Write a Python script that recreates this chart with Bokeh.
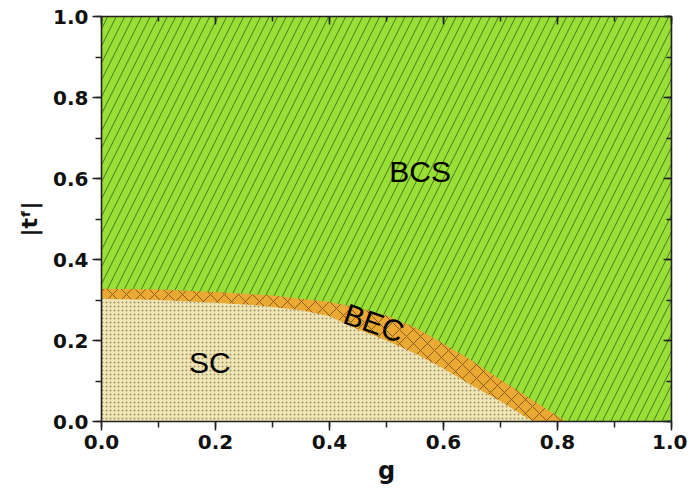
from bokeh.plotting import figure
from bokeh.models import (Range1d, LinearAxis, SingleIntervalTicker, ColumnDataSource,
                          PrintfTickFormatter, CustomJSTickFormatter)
from bokeh.core.properties import value
from bokeh.embed import file_html
from bokeh.resources import INLINE

# ---- data ----
g_lim = [0.0, 1.0]
t_top = [1.0, 1.0]

g_bec = [0.0, 0.1, 0.2, 0.3, 0.4, 0.45, 0.5, 0.55, 0.6, 0.65, 0.7, 0.75, 0.815]
t_bec = [0.328, 0.326, 0.320, 0.311, 0.295, 0.281, 0.262, 0.232, 0.192, 0.150, 0.103, 0.058, 0.0]

g_sc = [0.0, 0.1, 0.2, 0.28, 0.35, 0.40, 0.45, 0.50, 0.55, 0.60, 0.65, 0.70, 0.757]
t_sc = [0.303, 0.300, 0.293, 0.286, 0.275, 0.260, 0.227, 0.200, 0.168, 0.131, 0.089, 0.050, 0.0]

label_text = ["BCS", "BEC", "SC"]
label_g = [0.559, 0.478, 0.19]
label_t = [0.617, 0.243, 0.146]
label_angle = [0.0, -0.34, 0.0]

x_ticks_interval = 0.2
y_ticks_interval = 0.2

# ---- figure ----
p = figure(frame_width=570, frame_height=405,
           min_border_left=101, min_border_right=16, min_border_top=16, min_border_bottom=66,
           x_range=Range1d(0, 1), y_range=Range1d(0, 1),
           output_backend="svg", toolbar_location=None,
           background_fill_color="white", border_fill_color="white")
p.outline_line_color = None
p.grid.visible = False

p.varea(x=g_lim, y1=[0.0] * len(g_lim), y2=t_top, fill_color="#9ade38",
        hatch_pattern="right_diagonal_line", hatch_color="#3a6e12",
        hatch_scale=17, hatch_weight=1.0, hatch_alpha=0.9)
p.varea(x=g_bec, y1=[0.0] * len(g_bec), y2=t_bec, fill_color="#e9a933",
        hatch_pattern="diagonal_cross", hatch_color="#7d5014",
        hatch_scale=14, hatch_weight=1.0, hatch_alpha=0.85)
p.varea(x=g_sc, y1=[0.0] * len(g_sc), y2=t_sc, fill_color="#f1e7b6",
        hatch_pattern="dot", hatch_color="#8c7d55",
        hatch_scale=4, hatch_weight=0.6, hatch_alpha=0.8)

src = ColumnDataSource(dict(x=label_g, y=label_t, text=label_text, angle=label_angle))
p.text(x="x", y="y", text="text", angle="angle", source=src,
       text_font=value("Liberation Sans"), text_font_size="30px",
       text_color="black", text_align="center", text_baseline="middle")

fmt = PrintfTickFormatter(format="%.1f")

def style_main(ax, interval):
    ax.ticker = SingleIntervalTicker(interval=interval, num_minor_ticks=2)
    ax.formatter = fmt
    ax.axis_line_width = 1.6
    ax.axis_line_color = "#222222"
    ax.major_tick_line_width = 1.5
    ax.minor_tick_line_width = 1.5
    ax.major_tick_line_color = "#222222"
    ax.minor_tick_line_color = "#222222"
    ax.major_tick_in = 0
    ax.major_tick_out = 9
    ax.minor_tick_in = 0
    ax.minor_tick_out = 6
    ax.major_label_text_font = "DejaVu Sans"
    ax.major_label_text_font_style = "bold"
    ax.major_label_text_font_size = "20px"
    ax.major_label_text_color = "#111111"
    ax.major_label_standoff = 4
    ax.axis_label_text_font = "DejaVu Sans"
    ax.axis_label_text_font_style = "bold"
    ax.axis_label_text_color = "#111111"

style_main(p.xaxis[0], x_ticks_interval)
style_main(p.yaxis[0], y_ticks_interval)
p.xaxis[0].axis_label = "g"
p.xaxis[0].axis_label_text_font_size = "24px"
p.xaxis[0].axis_label_standoff = 5
p.yaxis[0].axis_label = "|t\u1da0|"
p.yaxis[0].axis_label_text_font_size = "22px"
p.yaxis[0].axis_label_standoff = 8

blank = CustomJSTickFormatter(code="return ''")

def mirror(loc, interval):
    ax = LinearAxis(ticker=SingleIntervalTicker(interval=interval, num_minor_ticks=2),
                    formatter=blank)
    ax.axis_line_width = 1.6
    ax.axis_line_color = "#222222"
    ax.major_tick_line_width = 1.5
    ax.minor_tick_line_width = 1.5
    ax.major_tick_line_color = "#222222"
    ax.minor_tick_line_color = "#222222"
    ax.major_tick_in = 8
    ax.major_tick_out = 0
    ax.minor_tick_in = 5
    ax.minor_tick_out = 0
    ax.major_label_standoff = 0
    p.add_layout(ax, loc)

mirror("above", x_ticks_interval)
mirror("right", y_ticks_interval)

open("out.html", "w").write(file_html(p, INLINE))
